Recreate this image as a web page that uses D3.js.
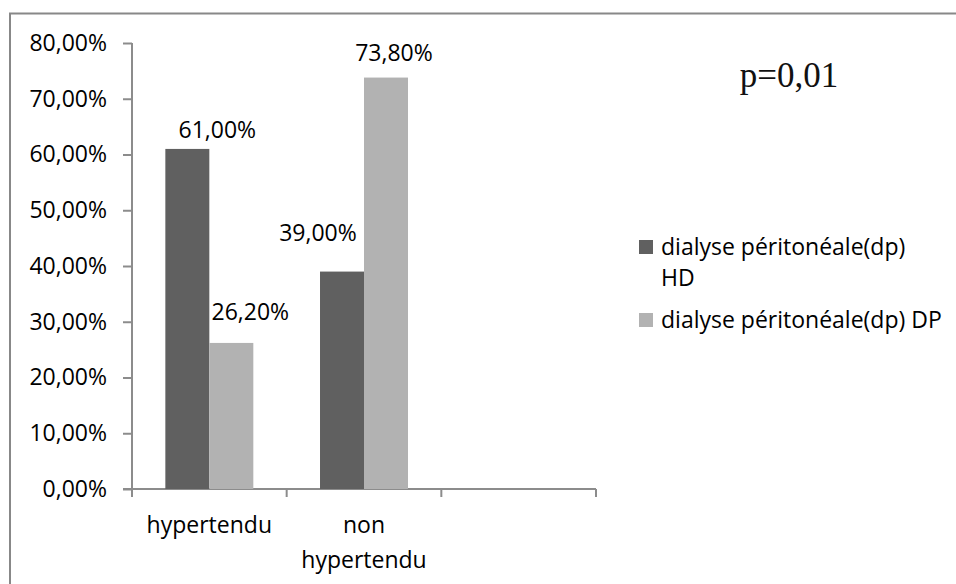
<!DOCTYPE html>
<html>
<head>
<meta charset="utf-8">
<script src="https://cdn.jsdelivr.net/npm/d3@7"></script>
<style>
  html, body { margin: 0; padding: 0; background: #fff; }
  svg { display: block; }
  text { font-family: "Open Sans", "Noto Sans", sans-serif; fill: #000; }
</style>
</head>
<body>
<svg id="chart" width="956" height="584"></svg>
<script>
// ---- data ----
const categories = ["hypertendu", "non hypertendu", ""];
const categoryLines = [["hypertendu"], ["non", "hypertendu"], []];
const seriesNames = ["dialyse péritonéale(dp) HD", "dialyse péritonéale(dp) DP"];
const legendLines = [["dialyse péritonéale(dp)", "HD"], ["dialyse péritonéale(dp) DP"]];
const hdValues = [61.0, 39.0, null];
const dpValues = [26.2, 73.8, null];
const yTicks = [0, 10, 20, 30, 40, 50, 60, 70, 80];
const annotation = "p=0,01";

// ---- layout / style ----
const W = 956, H = 584;
const plot = { left: 132, right: 596, top: 43, bottom: 489 };
const colors = ["#606060", "#b2b2b2"];
const axisColor = "#8c8c8c";
const fontSize = 23;
// manual data label nudges (as placed in the original chart), per series per category
const labelNudge = [
  [{ dx: 30, dy: -19 }, { dx: -24, dy: -39 }],
  [{ dx: 19, dy: -31 }, { dx: 8, dy: -25 }]
];

const svg = d3.select("#chart");

// outer chart border (partially cropped in the original)
svg.append("rect")
  .attr("x", 10).attr("y", 13.5)
  .attr("width", W + 20).attr("height", H + 20)
  .attr("fill", "none").attr("stroke", "#888").attr("stroke-width", 2);

const x0 = d3.scaleBand().domain(categories.map((c, i) => i))
  .range([plot.left, plot.right]).paddingInner(0).paddingOuter(0);
const x1 = d3.scaleBand().domain([0, 1])
  .range([0, x0.bandwidth()]).paddingInner(0).paddingOuter(0.758);
const y = d3.scaleLinear().domain([0, 80]).range([plot.bottom, plot.top]);

const fmt = v => d3.format(".2f")(v).replace(".", ",") + "%";

// y axis
const yAxis = d3.axisLeft(y).tickValues(yTicks).tickSize(9).tickPadding(16).tickFormat(fmt);
const gy = svg.append("g").attr("transform", `translate(${plot.left},0)`).call(yAxis);
gy.select(".domain").remove();
gy.append("line").attr("x1", 0).attr("x2", 0).attr("y1", plot.top).attr("y2", plot.bottom + 8)
  .attr("stroke", axisColor).attr("stroke-width", 2);
gy.selectAll(".tick line").attr("stroke", axisColor).attr("stroke-width", 2);
gy.selectAll(".tick text").attr("font-size", fontSize).attr("fill", "#000")
  .attr("font-family", "'Open Sans', sans-serif");

// x axis (ticks at category boundaries)
const boundaries = d3.range(categories.length + 1).map(i => plot.left + i * x0.bandwidth());
svg.append("line").attr("x1", plot.left - 9).attr("x2", plot.right)
  .attr("y1", plot.bottom).attr("y2", plot.bottom)
  .attr("stroke", axisColor).attr("stroke-width", 2);
svg.selectAll(".xtick").data(boundaries).enter().append("line")
  .attr("x1", d => d).attr("x2", d => d)
  .attr("y1", plot.bottom).attr("y2", plot.bottom + 8)
  .attr("stroke", axisColor).attr("stroke-width", 2);

// category labels
categoryLines.forEach((lines, i) => {
  const cx = x0(i) + x0.bandwidth() / 2;
  lines.forEach((t, j) => {
    svg.append("text").attr("x", cx).attr("y", 525 + j * 35)
      .attr("dy", "0.35em").attr("text-anchor", "middle")
      .attr("font-size", fontSize).text(t);
  });
});

// bars
const series = [hdValues, dpValues];
series.forEach((vals, s) => {
  svg.append("g").selectAll("rect")
    .data(vals.map((v, i) => ({ v, i })).filter(d => d.v != null))
    .enter().append("rect")
    .attr("x", d => x0(d.i) + x1(s))
    .attr("width", x1.bandwidth())
    .attr("y", d => y(d.v))
    .attr("height", d => y(0) - y(d.v))
    .attr("fill", colors[s]);
});

// data labels
series.forEach((vals, s) => {
  vals.forEach((v, i) => {
    if (v == null) return;
    const n = labelNudge[s][i];
    svg.append("text")
      .attr("x", x0(i) + x1(s) + x1.bandwidth() / 2 + n.dx)
      .attr("y", y(v) + n.dy)
      .attr("dy", "0.35em").attr("text-anchor", "middle")
      .attr("font-size", fontSize).text(fmt(v));
  });
});

// legend
const legendY = [247, 320];
legendLines.forEach((lines, s) => {
  svg.append("rect").attr("x", 639).attr("y", legendY[s] - 7)
    .attr("width", 14).attr("height", 14).attr("fill", colors[s]);
  lines.forEach((t, j) => {
    svg.append("text").attr("x", 661).attr("y", legendY[s] + j * 31)
      .attr("dy", "0.35em").attr("font-size", fontSize).text(t);
  });
});

// annotation
svg.append("text").attr("x", 789).attr("y", 75).attr("dy", "0.35em")
  .attr("text-anchor", "middle")
  .style("font-family", "'Liberation Serif', 'Times New Roman', serif")
  .attr("font-size", 35).style("fill", "#111").text(annotation);
</script>
</body>
</html>
